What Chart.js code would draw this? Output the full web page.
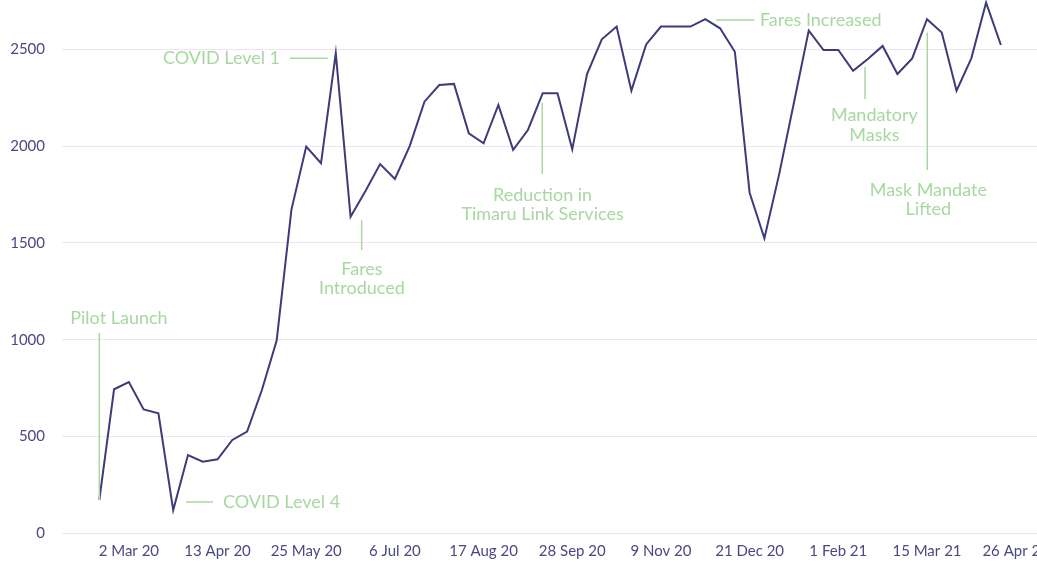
<!DOCTYPE html>
<html>
<head>
<meta charset="utf-8">
<script src="https://cdn.jsdelivr.net/npm/chart.js@4.4.1/dist/chart.umd.min.js"></script>
<style>
  html, body { margin: 0; padding: 0; background: #ffffff; overflow: hidden; }
  #wrap { position: relative; width: 1100px; height: 565px; }
</style>
</head>
<body>
<div id="wrap"><canvas id="c"></canvas></div>
<script>
// Week-starting dates (one per data point, plus the trailing tick label)
const weekLabels = [
  "17 Feb 20","24 Feb 20","2 Mar 20","9 Mar 20","16 Mar 20","23 Mar 20","30 Mar 20","6 Apr 20",
  "13 Apr 20","20 Apr 20","27 Apr 20","4 May 20","11 May 20","18 May 20","25 May 20","1 Jun 20",
  "8 Jun 20","15 Jun 20","22 Jun 20","29 Jun 20","6 Jul 20","13 Jul 20","20 Jul 20","27 Jul 20",
  "3 Aug 20","10 Aug 20","17 Aug 20","24 Aug 20","31 Aug 20","7 Sep 20","14 Sep 20","21 Sep 20",
  "28 Sep 20","5 Oct 20","12 Oct 20","19 Oct 20","26 Oct 20","2 Nov 20","9 Nov 20","16 Nov 20",
  "23 Nov 20","30 Nov 20","7 Dec 20","14 Dec 20","21 Dec 20","28 Dec 20","4 Jan 21","11 Jan 21",
  "18 Jan 21","25 Jan 21","1 Feb 21","8 Feb 21","15 Feb 21","22 Feb 21","1 Mar 21","8 Mar 21",
  "15 Mar 21","22 Mar 21","29 Mar 21","5 Apr 21","12 Apr 21","19 Apr 21","26 Apr 21"
];

// Weekly passenger trips
const trips = [
  172, 744, 781, 640, 620, 120, 404, 370, 382, 482, 525, 740,
  995, 1672, 1997, 1911, 2479, 1635, 1767, 1907, 1830, 2000, 2229, 2315,
  2321, 2066, 2014, 2212, 1980, 2083, 2273, 2273, 1983, 2372, 2551, 2617,
  2286, 2525, 2617, 2617, 2617, 2655, 2608, 2487, 1759, 1524, 1855, 2225,
  2596, 2496, 2496, 2389, 2450, 2517, 2372, 2453, 2655, 2586, 2286, 2453,
  2741, 2522
];

// Tick labels shown on the x axis
const shownTicks = ["2 Mar 20","13 Apr 20","25 May 20","6 Jul 20","17 Aug 20","28 Sep 20",
                    "9 Nov 20","21 Dec 20","1 Feb 21","15 Mar 21","26 Apr 21"];

// Y-axis tick values
const yTicks = [0, 500, 1000, 1500, 2000, 2500];

// Event annotations (positions in data space: x = week index, y = trips)
const annotations = [
  { lines: ["Pilot Launch"], tx: 1.33, ty: 1112, align: "center",
    seg: [0, 172, 0, 1035] },
  { lines: ["COVID Level 4"], tx: 8.37, ty: 162, align: "left",
    seg: [5.87, 162, 7.69, 162] },
  { lines: ["COVID Level 1"], tx: 12.23, ty: 2453, align: "right",
    seg: [12.9, 2453, 15.45, 2453] },
  { lines: ["Fares", "Introduced"], tx: 17.77, ty: 1365, align: "center",
    seg: [17.75, 1618, 17.75, 1463] },
  { lines: ["Reduction in", "Timaru Link Services"], tx: 29.99, ty: 1747, align: "center",
    seg: [29.97, 2224, 29.97, 1856] },
  { lines: ["Fares Increased"], tx: 44.70, ty: 2651, align: "left",
    seg: [41.73, 2651, 44.32, 2651] },
  { lines: ["Mandatory", "Masks"], tx: 52.44, ty: 2157, align: "center",
    seg: [51.81, 2410, 51.81, 2243] },
  { lines: ["Mask Mandate", "Lifted"], tx: 56.09, ty: 1774, align: "center",
    seg: [56.02, 2586, 56.02, 1876] }
];

const FONT = "Lato, 'Open Sans', sans-serif";
const GREEN = "#a7d8a0";

const annotationPlugin = {
  id: "events",
  afterDatasetsDraw(chart) {
    const { ctx, scales: { x, y } } = chart;
    ctx.save();
    ctx.strokeStyle = GREEN;
    ctx.lineWidth = 1.5;
    ctx.fillStyle = GREEN;
    ctx.font = "18px " + FONT;
    ctx.textBaseline = "middle";
    annotations.forEach(a => {
      const [x1, y1, x2, y2] = a.seg;
      ctx.beginPath();
      ctx.moveTo(x.getPixelForValue(x1), y.getPixelForValue(y1));
      ctx.lineTo(x.getPixelForValue(x2), y.getPixelForValue(y2));
      ctx.stroke();
      ctx.textAlign = a.align;
      const px = x.getPixelForValue(a.tx);
      const py = y.getPixelForValue(a.ty);
      a.lines.forEach((t, i) => ctx.fillText(t, px, py + i * 19.5));
    });
    ctx.restore();
  }
};

const points = trips.map((v, i) => ({ x: i, y: v }));
const tickIdx = shownTicks.map(l => weekLabels.indexOf(l));

new Chart(document.getElementById("c"), {
  type: "line",
  data: {
    datasets: [{
      data: points,
      borderColor: "#3d3b7a",
      borderWidth: 2,
      pointRadius: 0,
      tension: 0,
      clip: false
    }]
  },
  options: {
    responsive: true,
    maintainAspectRatio: false,
    animation: false,
    layout: { padding: { left: 0, right: 40, top: 0, bottom: 0 } },
    plugins: { legend: { display: false }, tooltip: { enabled: false } },
    scales: {
      x: {
        type: "linear",
        min: -2.524,
        max: 65.0,
        grid: { display: false, drawTicks: false },
        border: { display: false },
        afterBuildTicks: s => { s.ticks = tickIdx.map(v => ({ value: v })); },
        afterFit: s => { s.height = 31.7; },
        ticks: {
          autoSkip: false,
          maxRotation: 0,
          padding: 9,
          color: "#4a4880",
          font: { family: FONT, size: 15 },
          callback: v => weekLabels[v] ?? ""
        }
      },
      y: {
        min: 0,
        max: 2620,
        grid: { color: "#f1e1f1", lineWidth: 1, drawTicks: false },
        border: { display: false },
        afterBuildTicks: s => { s.ticks = yTicks.map(v => ({ value: v })); },
        afterFit: s => { s.width = 62; },
        ticks: {
          padding: 17,
          color: "#4a4880",
          font: { family: FONT, size: 15 },
          callback: v => String(v)
        }
      }
    }
  },
  plugins: [annotationPlugin]
});
</script>
</body>
</html>
